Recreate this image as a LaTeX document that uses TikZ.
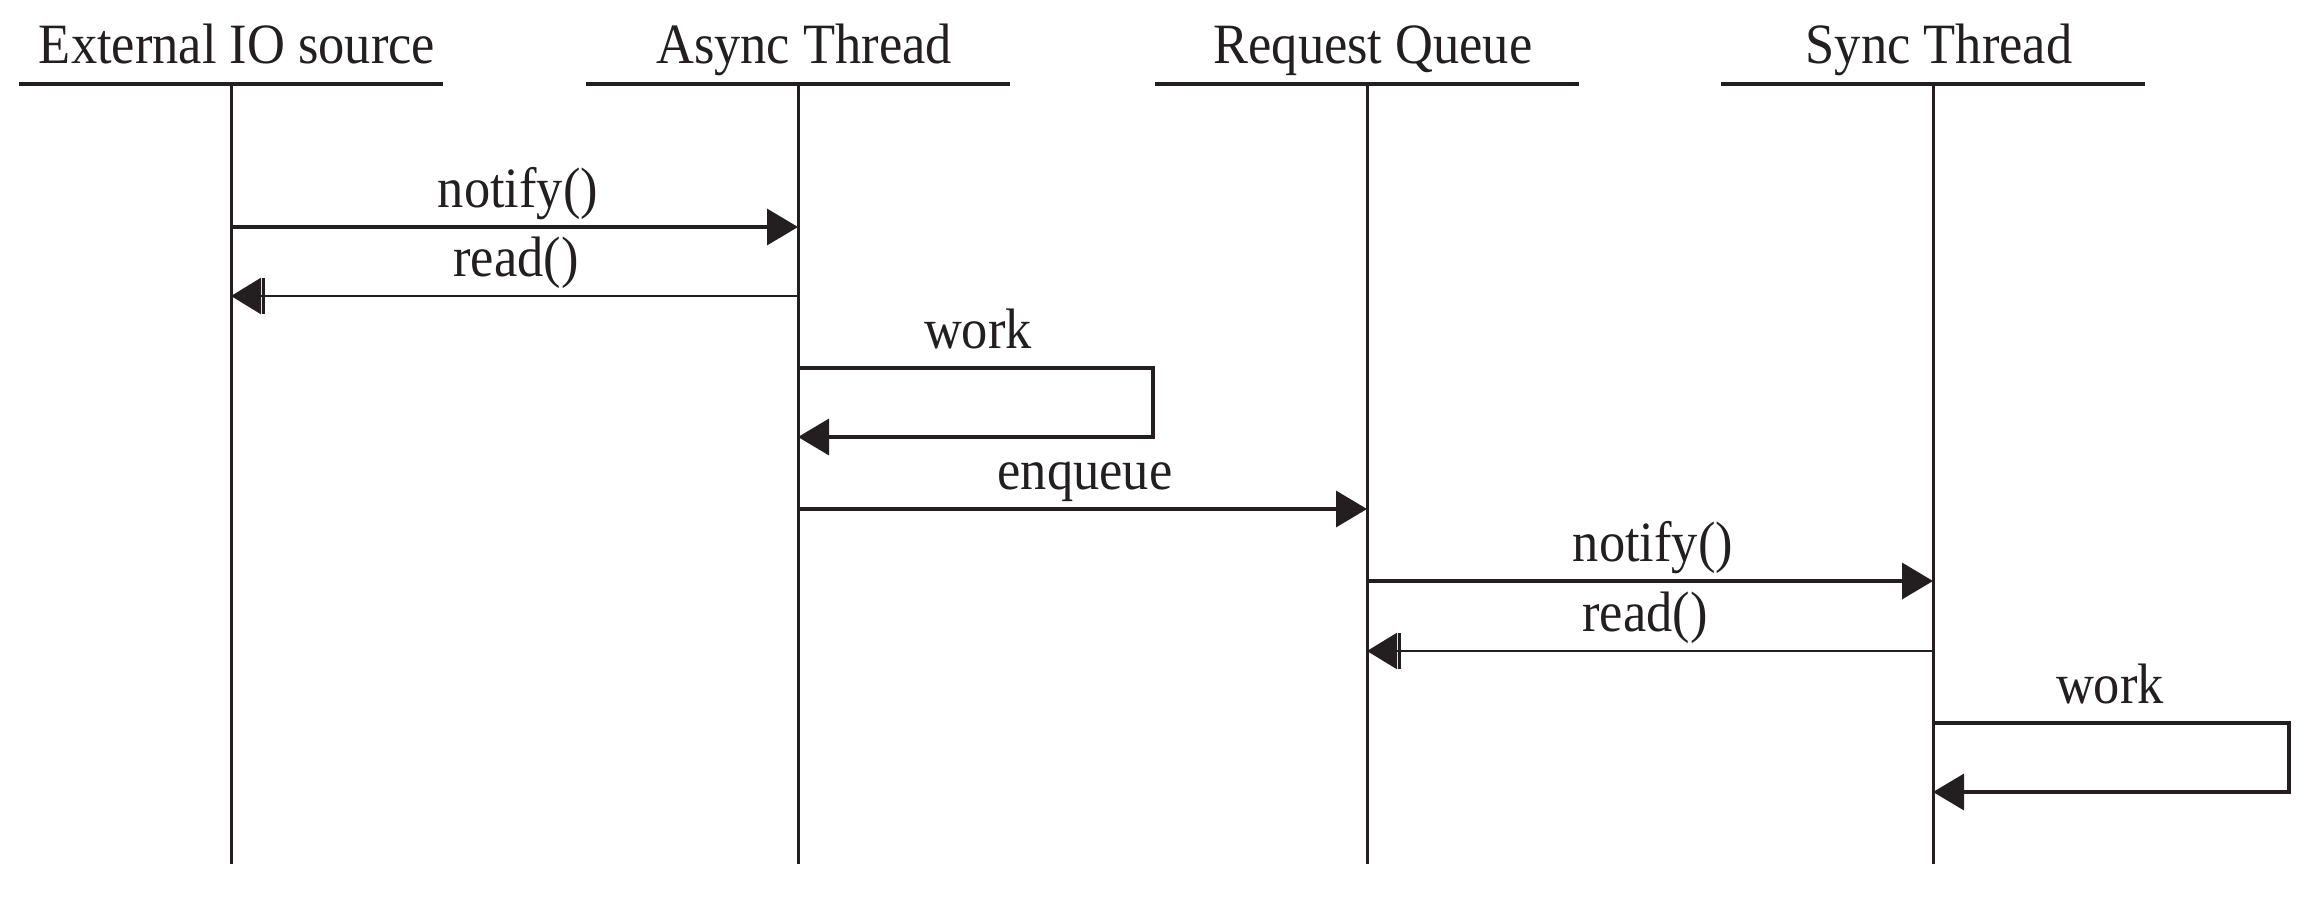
\documentclass[tikz,border=0pt]{standalone}
\usepackage{fontspec}
\setmainfont{Liberation Serif}[FakeStretch=0.92]
\usetikzlibrary{arrows.meta}
\definecolor{ink}{HTML}{231F20}
\begin{document}
\begin{tikzpicture}[x=1pt,y=-1pt,
  lbl/.style={anchor=base,inner sep=0pt,font=\fontsize{57}{63}\selectfont,text=ink},
  life/.style={line width=3pt,draw=ink},
  head/.style={line width=3.5pt,draw=ink},
  msg/.style={line width=3.5pt,draw=ink,-{Triangle[length=31pt,width=36pt]}},
  ret/.style={line width=2.5pt,draw=ink,-{Bar[width=36pt,line width=2.5pt,sep=1pt]Triangle[length=30pt,width=36pt]}},
]
\useasboundingbox (0,0) rectangle (2308,902);
% lifelines
\foreach \n/\x/\t in {1/231/External IO source,2/798/Async Thread,3/1367/Request Queue,4/1933/Sync Thread}{
  \coordinate (t\n) at (\x,84);
  \coordinate (b\n) at (\x,864);
  \coordinate (hl\n) at (\x-212,84);
  \coordinate (hr\n) at (\x+212,84);
  \node[lbl] (h\n) at (\x+6,63) {\t};
  \draw[head] (hl\n) -- (hr\n);
  \draw[life] (t\n) -- (b\n);
}
% message points
\coordinate (m1a) at (231,227);  \coordinate (m1b) at (798,227);
\coordinate (m2a) at (798,296);  \coordinate (m2b) at (231,296);
\coordinate (w1a) at (798,368);  \coordinate (w1b) at (1153,368);
\coordinate (w1c) at (1153,437); \coordinate (w1d) at (798,437);
\coordinate (m3a) at (798,509);  \coordinate (m3b) at (1367,509);
\coordinate (m4a) at (1367,581); \coordinate (m4b) at (1933,581);
\coordinate (m5a) at (1933,651); \coordinate (m5b) at (1367,651);
\coordinate (w2a) at (1933,723); \coordinate (w2b) at (2289,723);
\coordinate (w2c) at (2289,792); \coordinate (w2d) at (1933,792);

\draw[msg] (m1a) -- (m1b);
\node[lbl] (l1) at (518,207) {notify()};
\draw[ret] (m2a) -- (m2b);
\node[lbl] (l2) at (516,276) {read()};
\draw[msg] (w1a) -- (w1b) -- (w1c) -- (w1d);
\node[lbl] (l3) at (978,348) {work};
\draw[msg] (m3a) -- (m3b);
\node[lbl] (l4) at (1085,489) {enqueue};
\draw[msg] (m4a) -- (m4b);
\node[lbl] (l5) at (1653,561) {notify()};
\draw[ret] (m5a) -- (m5b);
\node[lbl] (l6) at (1645,631) {read()};
\draw[msg] (w2a) -- (w2b) -- (w2c) -- (w2d);
\node[lbl] (l7) at (2110,703) {work};
\end{tikzpicture}
\end{document}
